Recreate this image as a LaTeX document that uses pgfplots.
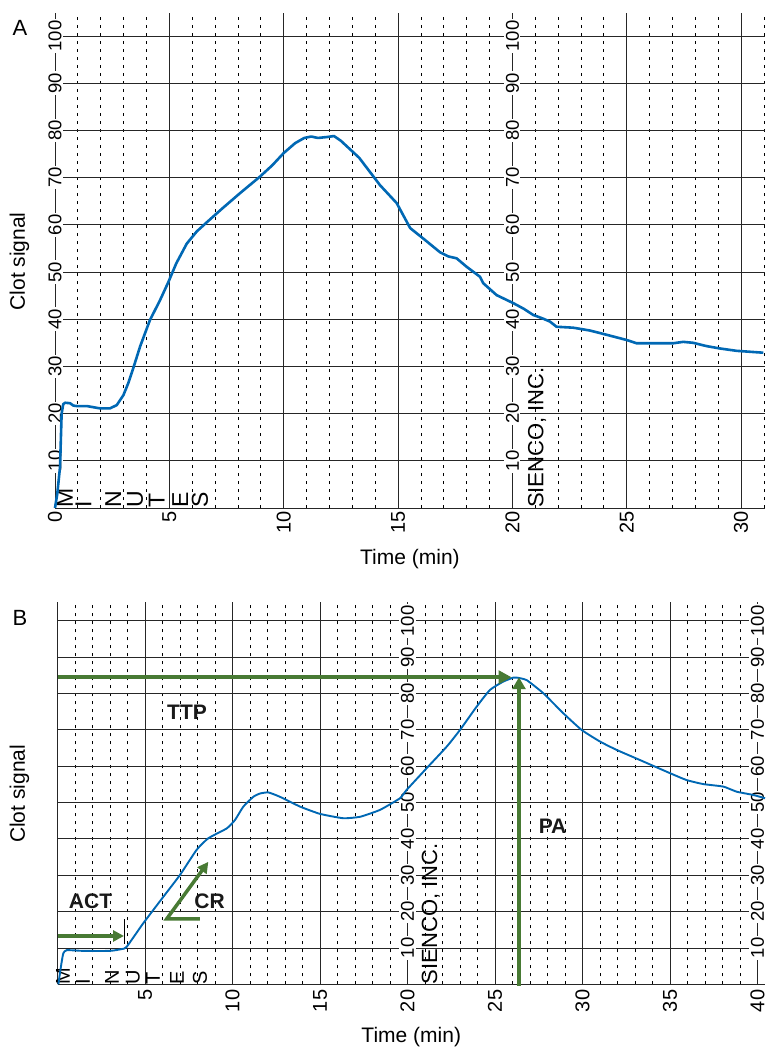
\documentclass[border=0pt]{standalone}
\usepackage{fontspec}
\setmainfont{Liberation Sans}
\usepackage{pgfplots}
\pgfplotsset{compat=1.18}
\usetikzlibrary{arrows.meta}
\definecolor{clotblue}{RGB}{0,104,180}
\definecolor{arrgreen}{RGB}{72,122,52}

\pgfplotsset{
  paper/.style={anchor=south west, clip=false,
    axis line style={draw=none}, tick style={draw=none},
    xmajorgrids, ymajorgrids, xminorgrids,
    major grid style={black!85, line width=0.9pt},
    minor grid style={black, line width=0.8pt, dash pattern=on 3.2pt off 4.8pt},
    ytick={0,10,...,100}, yticklabels={},
    xticklabel style={rotate=90, anchor=east, font=\fontsize{20}{20}\selectfont},
    label style={font=\fontsize{21}{21}\selectfont}},
}
\tikzset{
  scl/.style={rotate=90, fill=white, inner sep=1.5pt, font=\fontsize{18.5}{18.5}\selectfont},
  letr/.style={rotate=90, anchor=west, inner sep=0pt},
  tag/.style={font=\bfseries\fontsize{21}{21}\selectfont, text=black!90},
}

\begin{document}
\begin{tikzpicture}
\useasboundingbox (0,0) rectangle (765pt,-1048pt);

% ---- panel A
\begin{axis}[paper, at={(55pt,-508pt)}, x=22.87pt, y=4.72pt,
  xmin=0, xmax=31.04, ymin=0, ymax=104.9,
  xtick={0,5,...,30}, xticklabels={0,5,10,15,20,25,30},
  minor xtick={1,2,3,4,6,7,8,9,11,12,13,14,16,17,18,19,21,22,23,24,26,27,28,29,31},
  xlabel={Time (min)}, ylabel={Clot signal},
  xlabel style={at={(axis description cs:0.5,-0.103)}, anchor=center},
  ylabel style={at={(axis description cs:-0.050,0.498)}, anchor=center}]
\pgfplotsinvokeforeach{10,20,...,100}{
  \node[scl] at (axis cs:0,#1) {#1};
  \node[scl] at (axis cs:20,#1) {#1};
}
\node[letr, font=\fontsize{23}{23}\selectfont] at (axis cs:0.44,0) {M};
\node[letr, font=\fontsize{23}{23}\selectfont] at (axis cs:1.24,0) {I};
\node[letr, font=\fontsize{23}{23}\selectfont] at (axis cs:2.55,0) {N};
\node[letr, font=\fontsize{23}{23}\selectfont] at (axis cs:3.50,0) {U};
\node[letr, font=\fontsize{23}{23}\selectfont] at (axis cs:4.45,0) {T};
\node[letr, font=\fontsize{23}{23}\selectfont] at (axis cs:5.47,0) {E};
\node[letr, font=\fontsize{23}{23}\selectfont] at (axis cs:6.34,0) {S};
\node[letr, font=\fontsize{22}{22}\selectfont] at (axis cs:21.08,0) {SIENCO, INC.};
\addplot[clotblue, line width=2.6pt, line join=round] coordinates {
(0,0) (0.1,3) (0.22,8.7) (0.29,20) (0.36,22.0) (0.44,22.3) (0.66,22.2) (0.8,21.7)
(0.95,21.6) (1.39,21.6) (1.97,21.1) (2.4,21.1) (2.7,21.8) (2.99,23.9) (3.2,26.4)
(3.42,29.6) (3.72,34.2) (4.15,39.8) (4.59,44) (4.96,47.9) (5.3,51.8) (5.76,56.0)
(6.2,58.6) (6.63,60.5) (7.3,63.4) (8.09,66.7) (8.96,70.2) (9.5,72.6) (10,75.2)
(10.5,77.3) (10.9,78.4) (11.2,78.7) (11.5,78.4) (11.9,78.6) (12.2,78.8) (12.5,77.8)
(13.3,74.2) (14.21,68.4) (14.94,64.6) (15.53,59.3) (16.1,57.1) (16.83,54.2)
(17.2,53.3) (17.56,52.9) (18.0,51.1) (18.58,49) (18.73,47.6) (19.31,45.1)
(20.04,43.4) (20.5,42.2) (20.91,40.9) (21.3,40.2) (21.64,39.5) (21.93,38.4)
(22.66,38.2) (23.39,37.6) (24.12,36.7) (24.99,35.6) (25.43,34.9) (27.03,34.9)
(27.47,35.2) (27.9,35.0) (28.49,34.3) (29.07,33.8) (29.8,33.3) (30.97,32.9)};
\end{axis}

% ---- panel B
\begin{axis}[paper, at={(57.5pt,-984.3pt)}, x=17.5pt, y=3.634pt,
  xmin=0, xmax=40.43, ymin=0, ymax=105.2,
  xtick={0,5,...,40}, xticklabels={,5,10,15,20,25,30,35,40},
  xticklabel shift=2pt,
  minor xtick={1,2,3,4,6,7,8,9,11,12,13,14,16,17,18,19,21,22,23,24,26,27,28,29,31,32,33,34,36,37,38,39},
  xlabel={Time (min)}, ylabel={Clot signal},
  xlabel style={at={(axis description cs:0.5,-0.138)}, anchor=center},
  ylabel style={at={(axis description cs:-0.0537,0.498)}, anchor=center}]
\pgfplotsinvokeforeach{10,20,...,100}{
  \node[scl] at (axis cs:20,#1) {#1};
  \node[scl] at (axis cs:40,#1) {#1};
}
\node[letr, font=\fontsize{20}{20}\selectfont] at (axis cs:0.31,0) {M};
\node[letr, font=\fontsize{20}{20}\selectfont] at (axis cs:1.46,0) {I};
\node[letr, font=\fontsize{20}{20}\selectfont] at (axis cs:3.11,0) {N};
\node[letr, font=\fontsize{20}{20}\selectfont] at (axis cs:4.31,0) {U};
\node[letr, font=\fontsize{20}{20}\selectfont] at (axis cs:5.46,0) {T};
\node[letr, font=\fontsize{20}{20}\selectfont] at (axis cs:6.83,0) {E};
\node[letr, font=\fontsize{20}{20}\selectfont] at (axis cs:8.14,0) {S};
\node[letr, font=\fontsize{22}{22}\selectfont] at (axis cs:21.34,0) {SIENCO, INC.};
\node[tag] at (axis cs:7.4,74.9) {TTP};
\node[tag] at (axis cs:1.89,22.8) {ACT};
\node[tag] at (axis cs:8.69,22.8) {CR};
\node[tag] at (axis cs:28.29,43.4) {PA};
\addplot[clotblue, line width=1.9pt, smooth, tension=0.3] coordinates {
(0.05,0) (0.2,5) (0.33,8.5) (0.53,9.4) (1.47,9.2) (3.0,9.2) (3.67,9.7) (3.95,10.3)
(4.9,16.8) (6.05,24.1) (7.0,30.1) (7.95,37) (8.62,40.2) (9.67,42.9) (10.14,45.2)
(10.62,48.9) (11.19,51.6) (11.57,52.5) (12.05,52.8) (12.71,51.6) (13.86,48.9)
(15.0,46.9) (16.33,45.7) (17.29,46.1) (18.43,48) (19.57,51.2) (19.95,53.5)
(21.1,59.5) (22.24,65.4) (23.0,70) (23.95,76.4) (24.71,81) (25.47,83.3)
(26.05,84.4) (26.24,84.4) (26.81,83.7) (27.76,80.1) (28.9,74.6) (29.95,70)
(31.0,66.8) (31.95,64.5) (33.29,61.7) (35.0,58.1) (35.95,56.2) (36.9,55.1)
(38.05,54.4) (38.81,53) (39.76,52.1) (40.43,51.2)};
% TTP, PA, ACT, CR markers
\addplot[arrgreen, line width=4pt, -{Triangle[length=13pt,width=13pt]}] coordinates {(0,84.5) (25.95,84.5)};
\addplot[arrgreen, line width=4pt, -{Triangle[length=12pt,width=13pt]}] coordinates {(26.37,-0.4) (26.37,84.5)};
\addplot[arrgreen, line width=3.5pt, -{Triangle[length=11pt,width=11pt]}] coordinates {(0,13.3) (3.8,13.3)};
\addplot[black, line width=1.2pt] coordinates {(3.83,11.1) (3.83,18)};
\addplot[arrgreen, line width=3.5pt, miter limit=4, -{Triangle[length=11pt,width=11pt]}] coordinates {(8.14,18) (6.24,18) (8.62,33.7)};
\end{axis}

\node[font=\fontsize{22}{22}\selectfont] at (20pt,-27.5pt) {A};
\node[font=\fontsize{22}{22}\selectfont] at (20pt,-617.5pt) {B};
\end{tikzpicture}
\end{document}
